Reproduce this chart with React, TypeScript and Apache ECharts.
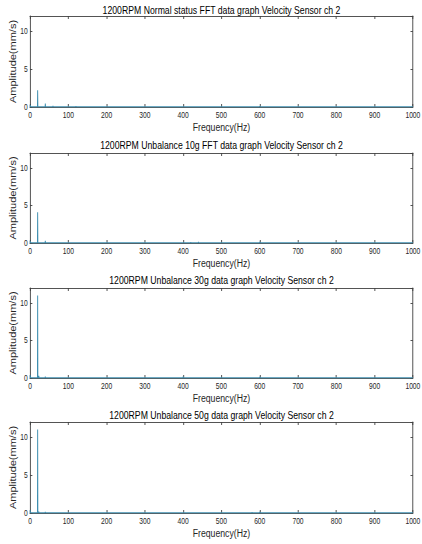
import React, { useEffect, useRef } from "react";
import * as echarts from "echarts";

const titles = [
  "1200RPM Normal status FFT data graph Velocity Sensor ch 2",
  "1200RPM Unbalance 10g FFT data graph Velocity Sensor ch 2",
  "1200RPM Unbalance 30g data graph Velocity Sensor ch 2",
  "1200RPM Unbalance 50g data graph Velocity Sensor ch 2",
];

const xTickLabels = ["0", "100", "200", "300", "400", "500", "600", "700", "800", "900", "1000"];
const yTickLabels = ["0", "5", "10"];

// [frequency Hz, amplitude mm/s]
const normalSpikes: [number, number][] = [
  [0.5, 0.3], [20, 2.2], [40, 0.45], [60, 0.15], [80, 0.1], [100, 0.08], [120, 0.12],
  [140, 0.06], [260, 0.05], [280, 0.1], [320, 0.06], [400, 0.08], [420, 0.05],
  [460, 0.06], [580, 0.1], [600, 0.12],
];
const unb10Spikes: [number, number][] = [
  [0.5, 0.3], [20, 4.1], [40, 0.3], [60, 0.1], [100, 0.06], [140, 0.05], [280, 0.05],
  [400, 0.1], [420, 0.12], [440, 0.15], [460, 0.1], [580, 0.1], [600, 0.15], [620, 0.08],
];
const unb30Spikes: [number, number][] = [
  [0.5, 0.4], [20, 11.0], [23, 0.3], [40, 0.2], [60, 0.1], [100, 0.06], [140, 0.05],
  [360, 0.06], [400, 0.2], [420, 0.1], [440, 0.08], [580, 0.1], [600, 0.15], [620, 0.08],
];
const unb50Spikes: [number, number][] = [
  [0.5, 0.4], [20, 11.0], [23, 0.2], [40, 0.15], [60, 0.08], [140, 0.05], [360, 0.06],
  [400, 0.1], [420, 0.08], [580, 0.12], [600, 0.15], [620, 0.1],
];
const baseline = 0.02;

const panels = [normalSpikes, unb10Spikes, unb30Spikes, unb50Spikes];
const gridTops = [16, 153, 288, 422];
const gridHeights = [91, 90, 90, 91];
const titleYs = [10, 145.5, 280, 415.5];

// the reference is horizontally compressed; render wider and squeeze
const SX = 0.79;
const W = 422 / SX;

const FONT = "'Liberation Sans', Arial, sans-serif";
const AXIS_COLOR = "#404040";
const TEXT_COLOR = "#262626";
const LINE_COLOR = "#3f8fb0";

function buildData(spikes: [number, number][]) {
  const out: [number, number][] = [[0, baseline]];
  spikes.forEach(([f, a]) => {
    out.push([Math.max(0, f - 0.5), baseline]);
    out.push([f, a]);
    out.push([f + 0.5, baseline]);
  });
  out.push([1000, baseline]);
  return out;
}

export default function App() {
  const ref = useRef<HTMLDivElement>(null);
  useEffect(() => {
    if (!ref.current) return;
    const chart = echarts.init(ref.current, undefined, { renderer: "svg" });
    const grids: any[] = [];
    const xAxes: any[] = [];
    const yAxes: any[] = [];
    const series: any[] = [];
    const graphics: any[] = [];
    panels.forEach((spikes, i) => {
      grids.push({
        left: 30 / SX, right: 9 / SX, top: gridTops[i], height: gridHeights[i],
        outerBoundsMode: "none", containLabel: false,
      });
      const line = { show: true, lineStyle: { color: AXIS_COLOR, width: 1 } };
      const tick = { show: true, inside: true, length: 3, lineStyle: { color: AXIS_COLOR } };
      xAxes.push({
        type: "value", gridIndex: i, position: "bottom", min: 0, max: 1000, interval: 100,
        axisLine: { ...line, onZero: false }, axisTick: tick, splitLine: { show: false },
        axisLabel: {
          color: TEXT_COLOR, fontSize: 8.5, fontFamily: FONT, margin: 4,
          formatter: (v: number) => xTickLabels[Math.round(v / 100)] ?? "",
        },
        name: "Frequency(Hz)", nameLocation: "middle", nameGap: 15, nameMoveOverlap: false,
        nameTextStyle: { color: TEXT_COLOR, fontSize: 11, fontFamily: FONT },
      });
      xAxes.push({
        type: "value", gridIndex: i, position: "top", min: 0, max: 1000, interval: 100,
        axisLine: { ...line, onZero: false }, axisTick: tick, axisLabel: { show: false },
        splitLine: { show: false },
      });
      yAxes.push({
        type: "value", gridIndex: i, position: "left", min: 0, max: 12, interval: 5,
        axisLine: { ...line, onZero: false }, axisTick: tick, splitLine: { show: false },
        axisLabel: {
          color: TEXT_COLOR, fontSize: 8.5, fontFamily: FONT, margin: 3, showMaxLabel: false,
          formatter: (v: number) => (v % 5 === 0 ? yTickLabels[v / 5] ?? "" : ""),
        },
        name: "Amplitude(mm/s)", nameLocation: "middle", nameGap: 16, nameRotate: 90,
        nameMoveOverlap: false,
        nameTextStyle: { color: TEXT_COLOR, fontSize: 11, fontFamily: FONT },
      });
      yAxes.push({
        type: "value", gridIndex: i, position: "right", min: 0, max: 12, interval: 5,
        axisLine: { ...line, onZero: false }, axisTick: tick, axisLabel: { show: false },
        splitLine: { show: false },
      });
      series.push({
        type: "line", xAxisIndex: 2 * i, yAxisIndex: 2 * i, data: buildData(spikes),
        showSymbol: false, lineStyle: { color: LINE_COLOR, width: 1.2 }, z: 5,
      });
      graphics.push({
        type: "text", x: 221.5 / SX, y: titleYs[i],
        style: {
          text: titles[i], textAlign: "center", textVerticalAlign: "middle",
          fill: "#000", fontSize: 11, fontFamily: FONT,
        },
      });
    });
    chart.setOption({
      animation: false,
      backgroundColor: "#fff",
      grid: grids,
      xAxis: xAxes,
      yAxis: yAxes,
      series,
      graphic: graphics,
    });
    return () => chart.dispose();
  }, []);
  return (
    <div
      style={{ position: "absolute", left: 0, top: 0, width: 422, height: 544, overflow: "hidden" }}
    >
      <div
        ref={ref}
        style={{
          width: W, height: 544, transform: `scaleX(${SX})`, transformOrigin: "0 0",
        }}
      />
    </div>
  );
}
